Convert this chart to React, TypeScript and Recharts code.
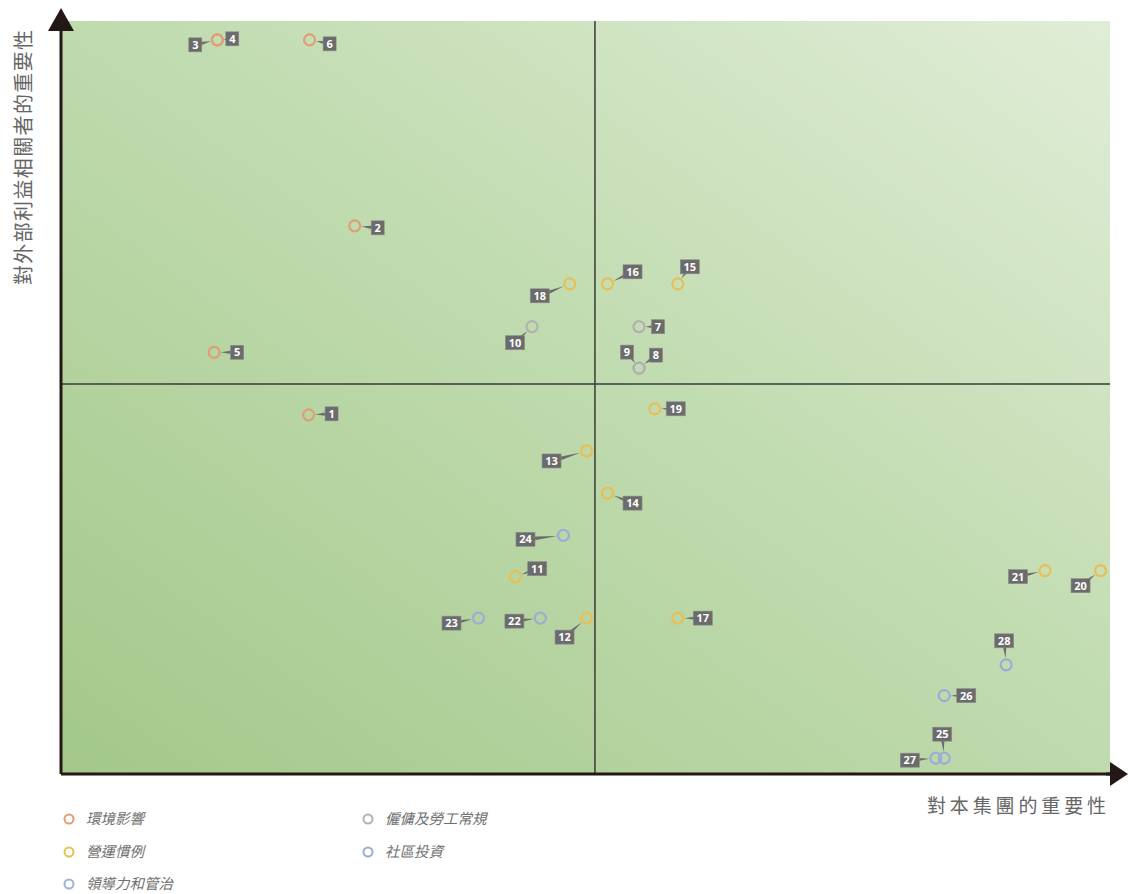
import React from 'react';
import { ScatterChart, Scatter, XAxis, YAxis, ReferenceLine, ReferenceArea } from 'recharts';

// ---- data ----
const issueIds = ['1','2','3','4','5','6','7','8','9','10','11','12','13','14','15','16','17','18','19','20','21','22','23','24','25','26','27','28'];
// importance to the group (x)
const importanceToGroup = [23.6, 28.0, 14.9, 14.9, 14.6, 23.7, 55.1, 55.1, 55.1, 44.9, 43.3, 50.1, 50.1, 52.1, 58.8, 52.1, 58.8, 48.5, 56.6, 99.1, 93.8, 45.7, 39.8, 47.9, 84.2, 84.2, 83.4, 90.1];
// importance to external stakeholders (y)
const importanceToStakeholders = [47.7, 72.8, 97.5, 97.5, 56.0, 97.5, 59.4, 53.9, 53.9, 59.4, 26.2, 20.7, 42.9, 37.3, 65.1, 65.1, 20.7, 65.1, 48.5, 27.0, 27.0, 20.7, 20.7, 31.7, 2.1, 10.4, 2.1, 14.5];
const issueCategory = [0,0,0,0,0,0, 3,3,3,3, 1,1,1,1,1,1,1,1,1,1,1, 4,4,4,4,4,4,4];

const categoryNames = ['環境影響', '營運慣例', '領導力和管治', '僱傭及勞工常規', '社區投資'];
const categoryColors = ['#e09d76', '#e8bf55', '#9fb1d9', '#b1b1b1', '#9badd6'];

const xTitle = '對本集團的重要性';
const yTitle = '對外部利益相關者的重要性';

// label box placement relative to each point (annotation layout)
const labelOffsets: Record<string, [number, number]> = {
  '1': [23, -1], '2': [23, 2], '3': [-22, 5], '4': [15, -1], '5': [23, 0], '6': [20, 4],
  '7': [19, 0], '8': [17, -13], '9': [-12, -16], '10': [-17, 16],
  '11': [22, -8], '12': [-22, 19], '13': [-35, 10], '14': [25, 10], '15': [12, -17],
  '16': [25, -12], '17': [25, 0], '18': [-30, 12], '19': [21, 0], '20': [-20, 15],
  '21': [-27, 6], '22': [-26, 3], '23': [-27, 5], '24': [-38, 4], '25': [-2, -24],
  '26': [22, 0], '27': [-26, 2], '28': [-2, -24],
};

const W = 1128;
const H = 894;
const margin = { top: 21, right: 18, left: 61, bottom: 120 };

const seriesData = categoryNames.map((_, ci) =>
  issueIds
    .map((id, i) => ({ id, x: importanceToGroup[i], y: importanceToStakeholders[i], c: issueCategory[i] }))
    .filter((d) => d.c === ci)
);

const R = 5.5;

const makeShape = (color: string) => (props: any) => {
  const { cx, cy, payload } = props;
  if (cx == null || cy == null) return null;
  const [dx, dy] = labelOffsets[payload.id] || [20, 0];
  const bx = cx + dx;
  const by = cy + dy;
  const len = Math.sqrt(dx * dx + dy * dy) || 1;
  const ux = dx / len;
  const uy = dy / len;
  const tipX = cx + ux * (R + 1);
  const tipY = cy + uy * (R + 1);
  const px = -uy * 2.6;
  const py = ux * 2.6;
  const bw = payload.id.length > 1 ? 19 : 13;
  const bh = 14;
  return (
    <g>
      <circle cx={cx} cy={cy} r={R} fill="none" stroke={color} strokeWidth={2.2} />
      <polygon points={`${tipX},${tipY} ${bx + px},${by + py} ${bx - px},${by - py}`} fill="#6b6b6b" />
      <rect x={bx - bw / 2} y={by - bh / 2} width={bw} height={bh} fill="#6b6b6b" stroke="#8a8a8a" strokeWidth={0.6} />
      <text x={bx} y={by + 4} textAnchor="middle" fill="#ffffff" fontSize={11} fontWeight={700}
        fontFamily="'Open Sans', 'DejaVu Sans', sans-serif">{payload.id}</text>
    </g>
  );
};

export default function App() {
  const plotL = margin.left;
  const plotR = W - margin.right;
  const plotB = H - margin.bottom;
  const legendCols = [
    { x: 69, items: [0, 1, 2] },
    { x: 368, items: [3, 4] },
  ];
  const rowY = [819, 852, 884];
  const yChars = Array.from(yTitle);
  const yTop = 40;
  const yBottom = 275;
  const yPitch = (yBottom - yTop) / (yChars.length - 1);
  return (
    <div style={{ position: 'relative', width: W, height: H, background: '#ffffff' }}>
      <style>{`body{margin:0}`}</style>
      <svg width={0} height={0} style={{ position: 'absolute' }}>
        <defs>
          <linearGradient id="bgGrad" x1="0" y1="1" x2="1" y2="0">
            <stop offset="0%" stopColor="#a3c88a" />
            <stop offset="55%" stopColor="#c2dcb1" />
            <stop offset="100%" stopColor="#e0edd7" />
          </linearGradient>
        </defs>
      </svg>
      <ScatterChart width={W} height={H} margin={margin}>
        <XAxis type="number" dataKey="x" domain={[0, 100]} hide />
        <YAxis type="number" dataKey="y" domain={[0, 100]} hide />
        <ReferenceArea x1={0} x2={100} y1={0} y2={100} fill="url(#bgGrad)" fillOpacity={1} stroke="none" />
        <ReferenceLine x={50.9} stroke="#3a3a36" strokeWidth={1.5} />
        <ReferenceLine y={51.8} stroke="#3a3a36" strokeWidth={1.5} />
        <ReferenceLine x={0} stroke="#231815" strokeWidth={3} />
        <ReferenceLine y={0} stroke="#231815" strokeWidth={3} />
        {categoryNames.map((name, ci) => (
          <Scatter key={name} name={name} data={seriesData[ci]} fill={categoryColors[ci]}
            shape={makeShape(categoryColors[ci])} isAnimationActive={false} />
        ))}
      </ScatterChart>
      <svg width={W} height={H} style={{ position: 'absolute', left: 0, top: 0, pointerEvents: 'none' }}>
        <line x1={plotL} y1={12} x2={plotL} y2={margin.top + 4} stroke="#231815" strokeWidth={3} />
        <polygon points={`${plotL},8 ${plotL - 13},31 ${plotL + 13},31`} fill="#231815" />
        <line x1={plotR - 4} y1={plotB} x2={plotR + 4} y2={plotB} stroke="#231815" strokeWidth={3} />
        <polygon points={`${W},${plotB} ${plotR},${plotB - 12} ${plotR},${plotB + 12}`} fill="#231815" />
        <text x={927} y={813} fontSize={19} fill="#666666" textLength={179} lengthAdjust="spacing"
          fontFamily="'Noto Sans CJK TC', sans-serif">{xTitle}</text>
        {yChars.map((ch, i) => (
          <text key={i} transform={`translate(22,${yBottom - i * yPitch}) rotate(-90)`} textAnchor="middle"
            dominantBaseline="central" fontSize={20} fill="#666666"
            fontFamily="'Noto Sans CJK TC', sans-serif">{ch}</text>
        ))}
        {legendCols.map((col) =>
          col.items.map((ci, ri) => (
            <g key={ci}>
              <circle cx={col.x} cy={rowY[ri]} r={4.5} fill="none" stroke={categoryColors[ci]} strokeWidth={2} />
              <text x={col.x + 17} y={rowY[ri] + 5} fontSize={14.5} fill="#707070" fontStyle="italic"
                fontFamily="'Noto Sans CJK TC', sans-serif">{categoryNames[ci]}</text>
            </g>
          ))
        )}
      </svg>
    </div>
  );
}
